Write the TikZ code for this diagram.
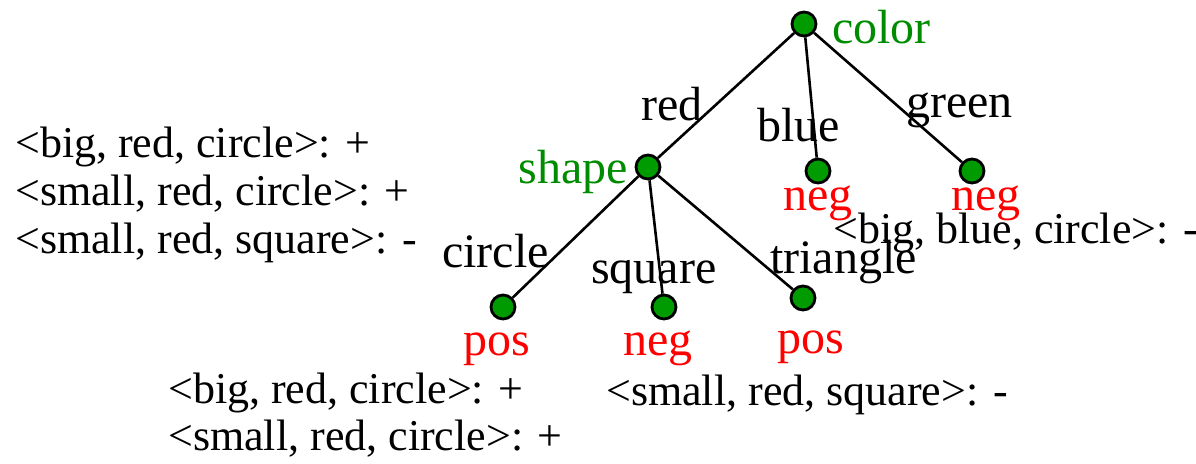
\documentclass[tikz,border=0pt]{standalone}
\usepackage{fontspec}
\setmainfont{Liberation Serif}
\usepackage{xcolor}
\usetikzlibrary{positioning}

\definecolor{treegreen}{RGB}{0,140,0}
\definecolor{dotgreen}{RGB}{0,155,0}

\begin{document}
\begin{tikzpicture}[
  x=1pt,
  y=-1pt,
  dot/.style={
    circle,
    draw,
    line width=2.8pt,
    fill=dotgreen,
    minimum size=24pt,
    inner sep=0pt
  },
  edge/.style={
    line width=2.6pt
  },
  attr/.style={
    anchor=base west,
    inner sep=0pt,
    font=\fontsize{48}{52}\selectfont
  },
  test/.style={
    attr,
    text=treegreen
  },
  label/.style={
    attr,
    text=red
  },
  example/.style={
    anchor=base west,
    inner sep=0pt,
    font=\fontsize{44}{48}\selectfont
  }
]
\useasboundingbox (0,0) rectangle (1196,463);

%---------------------------------
% Tree nodes
%---------------------------------
\node[dot] (color) at (804,24) {};
\node[dot] (shape) at (648,167) {};
\node[dot] (blue)  at (818,171) {};
\node[dot] (green) at (972,171) {};
\node[dot] (circ)  at (503,307) {};
\node[dot] (sq)    at (664,307) {};
\node[dot] (tri)   at (803,298) {};

%---------------------------------
% Branches
%---------------------------------
\draw[edge] (color) -- (shape);
\draw[edge] (color) -- (blue);
\draw[edge] (color) -- (green);
\draw[edge] (shape) -- (circ);
\draw[edge] (shape) -- (sq);
\draw[edge] (shape) -- (tri);

%---------------------------------
% Tests and class labels
%---------------------------------
\node[test] (colortxt) at (832,43) {color};
\node[test, anchor=base east] (shapetxt) at (628,183) {shape};

\node[label] (blueneg)  at (783,210) {neg};
\node[label] (greenneg) at (951,210) {neg};
\node[label] (circpos)  at (463,355) {pos};
\node[label] (sqneg)    at (623,355) {neg};
\node[label] (tripos)   at (777,353) {pos};

%---------------------------------
% Branch values
%---------------------------------
\node[attr] (redval)   at (641,120) {red};
\node[attr] (blueval)  at (757,141) {blue};
\node[attr] (greenval) at (906,117) {green};
\node[attr] (circval)  at (442,267) {circle};
\node[attr] (sqval)    at (591,283) {square};
\node[attr] (trival)   at (770,273) {triangle};

%---------------------------------
% Training examples
%---------------------------------
\node[example] (all1) at (15,157) {<big, red, circle>: +};
\node[example] (all2) at (15,205) {<small, red, circle>: +};
\node[example] (all3) at (15,253) {<small, red, square>: -};

\node[example] (blue1) at (833,243) {<big, blue, circle>: -};

\node[example] (circ1) at (168,403) {<big, red, circle>: +};
\node[example] (circ2) at (168,450) {<small, red, circle>: +};

\node[example] (sq1) at (606,405) {<small, red, square>: -};

\end{tikzpicture}
\end{document}
